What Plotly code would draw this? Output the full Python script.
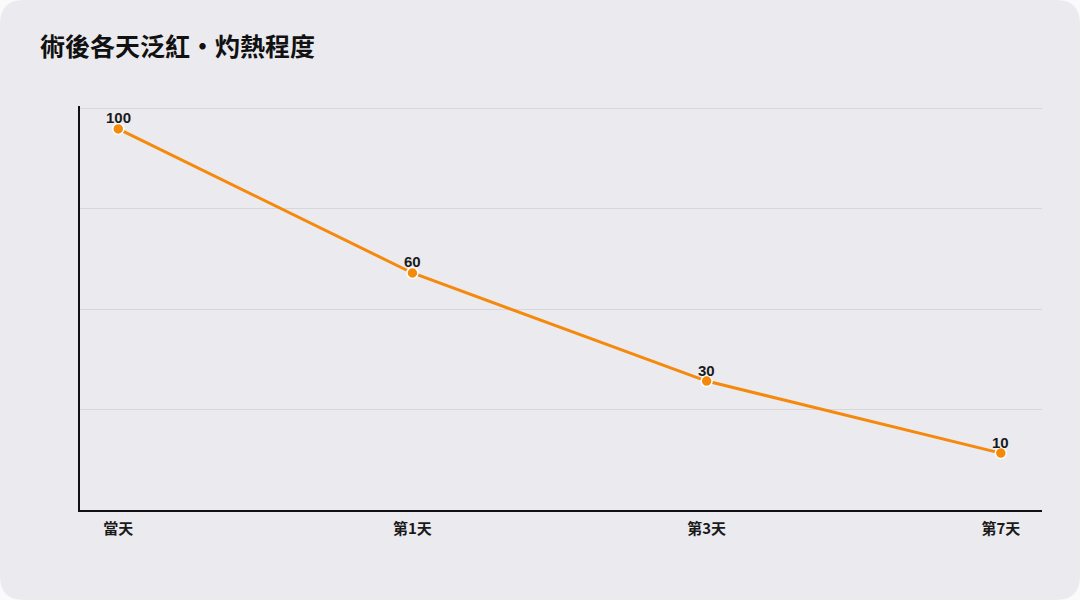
import numpy as np
import plotly.graph_objects as go

days = ["當天", "第1天", "第3天", "第7天"]
redness = [100, 60, 30, 10]

FONT = "Noto Sans CJK TC"
ORANGE = "#f5890c"
CARD = "#ebeaef"

W, H = 1080, 600
L, R, T, B = 80, 38, 106, 90
y_lo, y_hi = -5.8, 105.8
y_pad = 0.56  # a little headroom so the top gridline is drawn


def px2paper(px, py):
    # pixel position on the page -> paper coordinates
    return (px - L) / (W - L - R), (H - B - py) / (H - T - B)


def rounded_card(rad=24):
    pts = []
    x0, y0, x1, y1 = 0, 0, W, H
    seq = [
        ("M", (x0 + rad, y0)), ("L", (x1 - rad, y0)), ("Q", (x1, y0), (x1, y0 + rad)),
        ("L", (x1, y1 - rad)), ("Q", (x1, y1), (x1 - rad, y1)),
        ("L", (x0 + rad, y1)), ("Q", (x0, y1), (x0, y1 - rad)),
        ("L", (x0, y0 + rad)), ("Q", (x0, y0), (x0 + rad, y0)),
    ]
    for cmd, *coords in seq:
        s = " ".join("%.5f,%.5f" % px2paper(*c) for c in coords)
        pts.append(cmd + " " + s)
    return " ".join(pts) + " Z"


fig = go.Figure()
fig.add_trace(go.Scatter(
    x=days, y=redness, mode="lines+markers",
    line=dict(color=ORANGE, width=3),
    marker=dict(size=11, color=ORANGE, line=dict(color="white", width=1.5)),
    cliponaxis=False, hoverinfo="skip",
))

# value labels just above each point
for d, v in zip(days, redness):
    fig.add_annotation(x=d, y=v, text=str(v), showarrow=False, yshift=11,
                       font=dict(family="Liberation Sans", size=15, color="#1a1a1a", weight="bold"))

fig.add_shape(type="path", path=rounded_card(), xref="paper", yref="paper",
              fillcolor=CARD, line=dict(width=0), layer="below")

fig.update_layout(
    width=W, height=H,
    paper_bgcolor="#fafafb", plot_bgcolor="rgba(0,0,0,0)",
    margin=dict(l=L, r=R, t=T, b=B),
    showlegend=False,
    font=dict(family=FONT, color="#1a1a1a"),
    title=dict(text="術後各天泛紅・灼熱程度", x=0.037, xanchor="left", y=0.922, yanchor="middle",
               font=dict(family=FONT, size=25, color="#111111", weight="bold")),
)
fig.update_xaxes(
    range=[-0.13, 3.14], showgrid=False, zeroline=False,
    showline=True, linecolor="#111111", linewidth=2,
    ticks="", ticklabelstandoff=4,
    tickfont=dict(family=FONT, size=15, color="#1a1a1a", weight="bold"),
)
fig.update_yaxes(
    range=[y_lo, y_hi + y_pad], tickmode="array", tickvals=list(np.linspace(y_lo, y_hi, 5)),
    showticklabels=False, showgrid=True, gridcolor="#d6d6db", gridwidth=1, zeroline=False,
    showline=True, linecolor="#111111", linewidth=2, ticks="",
)

fig.write_html("out.html", config={"displayModeBar": False},
               post_script="document.body.style.margin = '0';")
